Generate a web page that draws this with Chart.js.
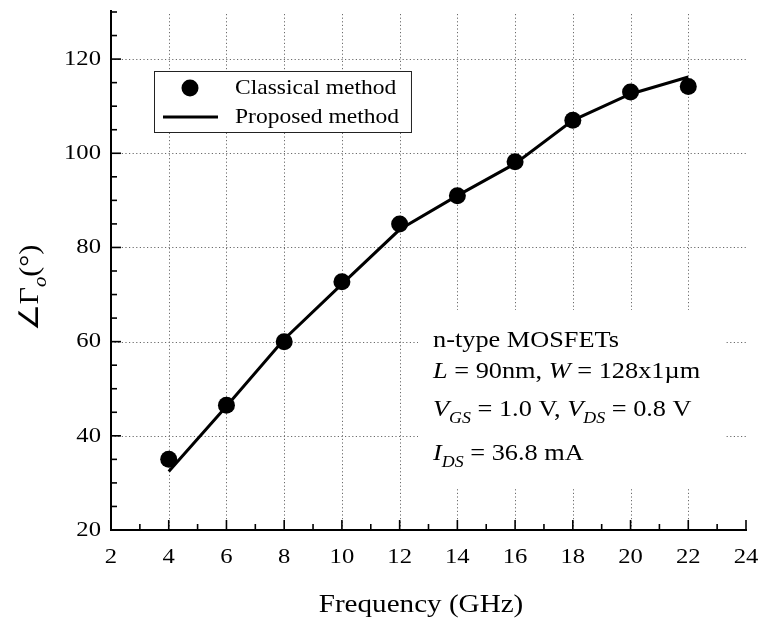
<!DOCTYPE html>
<html>
<head>
<meta charset="utf-8">
<script src="https://cdn.jsdelivr.net/npm/chart.js@4.4.1/dist/chart.umd.min.js"></script>
<style>
  html, body { margin: 0; padding: 0; background: #ffffff; }
  canvas { display: block; }
</style>
</head>
<body>
<canvas id="chart" width="761" height="624"></canvas>
<script>
// Output reflection phase of the n-type MOSFET versus frequency
const freqGHz      = [4, 6, 8, 10, 12, 14, 16, 18, 20, 22];
const classicalDeg = [35, 46.5, 60, 72.7, 85, 91, 98.2, 107, 113, 114.2];
const proposedDeg  = [32.4, 46.3, 60.5, 72.2, 83.8, 91, 97.8, 107, 112.6, 116.2];

const xTickValues = [2, 4, 6, 8, 10, 12, 14, 16, 18, 20, 22, 24];
const yTickValues = [20, 40, 60, 80, 100, 120];
const xMinorStep = 1;
const yMinorStep = 5;

const seriesNames = ['Classical method', 'Proposed method'];

const SERIF = '"Liberation Serif", "Times New Roman", serif';
const STRETCH = 1.12;

// rich text: array of {t, it, sub}
function richWidth(ctx, segs, size) {
  let w = 0;
  for (const s of segs) {
    const fs = s.sub ? size * 0.68 : size;
    ctx.font = (s.it ? 'italic ' : '') + fs + 'px ' + SERIF;
    w += ctx.measureText(s.t).width;
  }
  return w * STRETCH;
}
function drawRich(ctx, segs, x, y, size, align) {
  const total = richWidth(ctx, segs, size);
  let start = x;
  if (align === 'center') start = x - total / 2;
  else if (align === 'right') start = x - total;
  ctx.save();
  ctx.translate(start, y);
  ctx.scale(STRETCH, 1);
  ctx.textAlign = 'left';
  ctx.textBaseline = 'alphabetic';
  ctx.fillStyle = '#000';
  let cx = 0;
  for (const s of segs) {
    const fs = s.sub ? size * 0.68 : size;
    ctx.font = (s.it ? 'italic ' : '') + fs + 'px ' + SERIF;
    ctx.fillText(s.t, cx, s.sub ? size * 0.28 : 0);
    cx += ctx.measureText(s.t).width;
  }
  ctx.restore();
}
function drawPlain(ctx, text, x, y, size, align, baseline) {
  ctx.save();
  ctx.font = size + 'px ' + SERIF;
  const w = ctx.measureText(text).width * STRETCH;
  let start = x;
  if (align === 'center') start = x - w / 2;
  else if (align === 'right') start = x - w;
  ctx.translate(start, y);
  ctx.scale(STRETCH, 1);
  ctx.textAlign = 'left';
  ctx.textBaseline = baseline || 'alphabetic';
  ctx.fillStyle = '#000';
  ctx.fillText(text, 0, 0);
  ctx.restore();
}

const noteLines = [
  [{t: 'n-type MOSFETs'}],
  [{t: 'L', it: true}, {t: ' = 90nm, '}, {t: 'W', it: true}, {t: ' = 128x1\u00B5m'}],
  [{t: 'V', it: true}, {t: 'GS', it: true, sub: true}, {t: ' = 1.0 V, '}, {t: 'V', it: true}, {t: 'DS', it: true, sub: true}, {t: ' = 0.8 V'}],
  [{t: 'I', it: true}, {t: 'DS', it: true, sub: true}, {t: ' = 36.8 mA'}]
];
const noteBaselines = [347, 378, 416, 460];

const framePlugin = {
  id: 'frame',
  beforeDatasetsDraw(chart) {
    const {ctx, chartArea: a, scales: {x, y}} = chart;
    ctx.save();
    // dotted grid
    ctx.strokeStyle = '#6a6a6a';
    ctx.lineWidth = 1;
    ctx.setLineDash([1.2, 2.4]);
    for (const v of xTickValues) {
      if (v === x.min || v === x.max) continue;
      const px = Math.round(x.getPixelForValue(v)) + 0.5;
      ctx.beginPath(); ctx.moveTo(px, a.bottom); ctx.lineTo(px, a.top); ctx.stroke();
    }
    for (const v of yTickValues) {
      if (v === y.min || v === y.max) continue;
      const py = Math.round(y.getPixelForValue(v)) + 0.5;
      ctx.beginPath(); ctx.moveTo(a.left, py); ctx.lineTo(a.right, py); ctx.stroke();
    }
    ctx.setLineDash([]);
    // white panel behind the device notes
    ctx.fillStyle = '#ffffff';
    ctx.fillRect(418, 310, 308, 178);
    // legend panel
    const lx = 154, ly = 71, lh = 61;
    ctx.font = '21px ' + SERIF;
    const tw = Math.max(...seriesNames.map(s => ctx.measureText(s).width)) * STRETCH;
    const lw = 235 - lx + tw + 12;
    ctx.fillStyle = '#ffffff';
    ctx.fillRect(lx, ly, lw, lh);
    ctx.strokeStyle = '#222';
    ctx.lineWidth = 1;
    ctx.strokeRect(lx + 0.5, ly + 0.5, lw, lh);
    ctx.restore();

    // legend symbols and labels
    const ds = chart.data.datasets;
    ctx.save();
    ctx.fillStyle = ds[0].pointBackgroundColor;
    ctx.beginPath(); ctx.arc(190, 88, ds[0].pointRadius, 0, Math.PI * 2); ctx.fill();
    ctx.strokeStyle = ds[1].borderColor;
    ctx.lineWidth = ds[1].borderWidth;
    ctx.beginPath(); ctx.moveTo(163, 117); ctx.lineTo(218, 117); ctx.stroke();
    ctx.restore();
    drawPlain(ctx, ds[0].label, 235, 88, 21, 'left', 'middle');
    drawPlain(ctx, ds[1].label, 235, 117, 21, 'left', 'middle');

    // device notes
    noteLines.forEach((segs, i) => drawRich(ctx, segs, 433, noteBaselines[i], 23.5, 'left'));
  },
  afterDraw(chart) {
    const {ctx, chartArea: a, scales: {x, y}} = chart;
    ctx.save();
    ctx.strokeStyle = '#000';
    // axes
    ctx.lineWidth = 2;
    ctx.beginPath();
    ctx.moveTo(a.left, a.top - 2);
    ctx.lineTo(a.left, a.bottom);
    ctx.lineTo(a.right + 1, a.bottom);
    ctx.stroke();
    // inward ticks
    ctx.lineWidth = 1.6;
    for (let v = x.min; v <= x.max + 1e-9; v += xMinorStep) {
      const major = xTickValues.includes(v);
      const px = x.getPixelForValue(v);
      ctx.beginPath(); ctx.moveTo(px, a.bottom); ctx.lineTo(px, a.bottom - (major ? 10 : 6)); ctx.stroke();
    }
    for (let v = y.min; v <= y.max + 1e-9; v += yMinorStep) {
      const major = yTickValues.includes(v);
      const py = y.getPixelForValue(v);
      ctx.beginPath(); ctx.moveTo(a.left, py); ctx.lineTo(a.left + (major ? 10 : 6), py); ctx.stroke();
    }
    ctx.restore();
    // tick labels
    for (const v of xTickValues) drawPlain(ctx, String(v), x.getPixelForValue(v), 557, 22, 'center', 'middle');
    for (const v of yTickValues) drawPlain(ctx, String(v), 101, y.getPixelForValue(v), 22, 'right', 'middle');
    // axis titles
    drawPlain(ctx, 'Frequency (GHz)', 421, 612, 26, 'center', 'alphabetic');
    ctx.save();
    ctx.translate(38, 288);
    ctx.rotate(-Math.PI / 2);
    drawRich(ctx, [{t: '\u2220\u0393'}, {t: 'o', it: true, sub: true}, {t: '(\u00B0)'}], 0, 0, 27, 'center');
    ctx.restore();
  }
};

new Chart(document.getElementById('chart'), {
  type: 'line',
  data: {
    datasets: [
      {
        label: seriesNames[0],
        data: freqGHz.map((f, i) => ({x: f, y: classicalDeg[i]})),
        showLine: false,
        pointRadius: 8.5,
        pointBackgroundColor: '#000',
        pointBorderWidth: 0,
        borderColor: '#000',
        order: 1
      },
      {
        label: seriesNames[1],
        data: freqGHz.map((f, i) => ({x: f, y: proposedDeg[i]})),
        borderColor: '#000',
        borderWidth: 3,
        pointRadius: 0,
        tension: 0,
        fill: false,
        order: 2
      }
    ]
  },
  options: {
    responsive: false,
    animation: false,
    devicePixelRatio: 1,
    layout: { padding: { top: 12, right: 15, left: 0, bottom: 0 } },
    plugins: { legend: { display: false }, tooltip: { enabled: false } },
    scales: {
      x: {
        type: 'linear', min: 2, max: 24,
        ticks: { display: false },
        grid: { display: false },
        border: { display: false },
        afterFit: s => { s.height = 94; }
      },
      y: {
        type: 'linear', min: 20, max: 130,
        ticks: { display: false },
        grid: { display: false },
        border: { display: false },
        afterFit: s => { s.width = 111; }
      }
    }
  },
  plugins: [framePlugin]
});
</script>
</body>
</html>
